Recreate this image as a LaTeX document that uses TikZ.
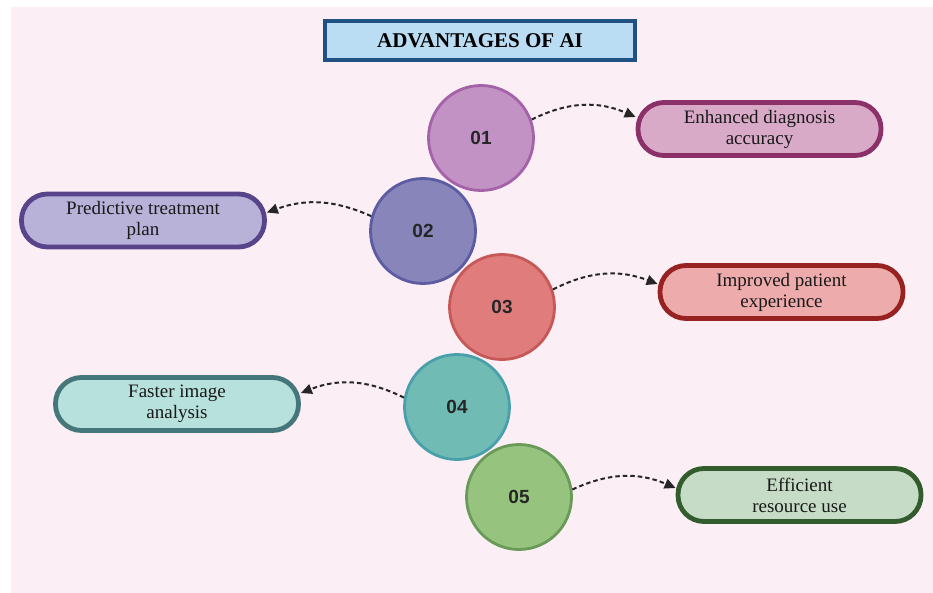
\documentclass[tikz,border=0pt]{standalone}
\usepackage{fontspec}
\setmainfont{Liberation Serif}
\newfontfamily\numfont{Liberation Sans}
\usetikzlibrary{arrows.meta}

\definecolor{pagebg}{HTML}{FCEEF5}
\definecolor{titlefill}{HTML}{BBDDF3}
\definecolor{titleline}{HTML}{1F5283}
\definecolor{onefill}{HTML}{C292C4}
\definecolor{oneline}{HTML}{A462A8}
\definecolor{twofill}{HTML}{8785BA}
\definecolor{twoline}{HTML}{5B5CA2}
\definecolor{threefill}{HTML}{E07C7B}
\definecolor{threeline}{HTML}{C65858}
\definecolor{fourfill}{HTML}{70BCB5}
\definecolor{fourline}{HTML}{4AA0AA}
\definecolor{fivefill}{HTML}{96C47E}
\definecolor{fiveline}{HTML}{699A58}
\definecolor{boxonefill}{HTML}{D9AAC8}
\definecolor{boxoneline}{HTML}{8B3068}
\definecolor{boxtwofill}{HTML}{B8B1D8}
\definecolor{boxtwoline}{HTML}{58448A}
\definecolor{boxthreefill}{HTML}{EDABAB}
\definecolor{boxthreeline}{HTML}{962222}
\definecolor{boxfourfill}{HTML}{B7E1DC}
\definecolor{boxfourline}{HTML}{44767A}
\definecolor{boxfivefill}{HTML}{C6DCC6}
\definecolor{boxfiveline}{HTML}{335C2E}

\begin{document}
\begin{tikzpicture}[x=1pt,y=-1pt,
  numdisc/.style={circle,minimum size=105pt,inner sep=0pt,line width=2.8pt,
    font=\numfont\bfseries\fontsize{19}{21}\selectfont,text=black!85},
  pill/.style={rectangle,rounded corners=26pt,minimum width=243pt,
    minimum height=53pt,line width=4.8pt,align=center,
    font=\fontsize{19}{21}\selectfont,text=black!90},
  link/.style={line width=2pt,dash pattern=on 4.5pt off 3pt,black!85,
    -{Triangle[length=11pt,width=10pt]}}]
  \useasboundingbox (0,0) rectangle (933,593);
  \fill[white] (0,0) rectangle (933,593);
  \fill[pagebg] (11,7) rectangle (933,593);
  % title
  \node[draw=titleline,fill=titlefill,line width=4pt,minimum width=310pt,
    minimum height=39pt,font=\bfseries\fontsize{21}{23}\selectfont]
    (title) at (480,40.5) {ADVANTAGES OF AI};
  % numbered discs
  \node[numdisc,draw=oneline,fill=onefill] (c1) at (481,138) {01};
  \node[numdisc,draw=twoline,fill=twofill] (c2) at (423,231) {02};
  \node[numdisc,draw=threeline,fill=threefill] (c3) at (502,307) {03};
  \node[numdisc,draw=fourline,fill=fourfill] (c4) at (457,407) {04};
  \node[numdisc,draw=fiveline,fill=fivefill] (c5) at (519,497) {05};
  % advantage boxes
  \node[pill,draw=boxoneline,fill=boxonefill] (b1) at (759.5,129)
    {Enhanced diagnosis\\accuracy};
  \node[pill,draw=boxtwoline,fill=boxtwofill] (b2) at (143,220.5)
    {Predictive treatment\\plan};
  \node[pill,draw=boxthreeline,fill=boxthreefill] (b3) at (781.5,292)
    {Improved patient\\experience};
  \node[pill,draw=boxfourline,fill=boxfourfill] (b4) at (177,404)
    {Faster image\\analysis};
  \node[pill,draw=boxfiveline,fill=boxfivefill] (b5) at (799.5,495)
    {Efficient\\resource use};
  % links
  \draw[link]
    (c1.20)
    to[bend left=25]
    ([yshift=12pt]b1.west);
  \draw[link]
    (c2.164)
    to[bend right=22]
    ([yshift=8pt]b2.east);
  \draw[link]
    (c3.19)
    to[bend left=24]
    ([yshift=8pt]b3.west);
  \draw[link]
    (c4.170)
    to[bend right=24]
    ([yshift=11pt]b4.east);
  \draw[link]
    (c5.8)
    to[bend left=24]
    ([yshift=7pt]b5.west);
\end{tikzpicture}
\end{document}
